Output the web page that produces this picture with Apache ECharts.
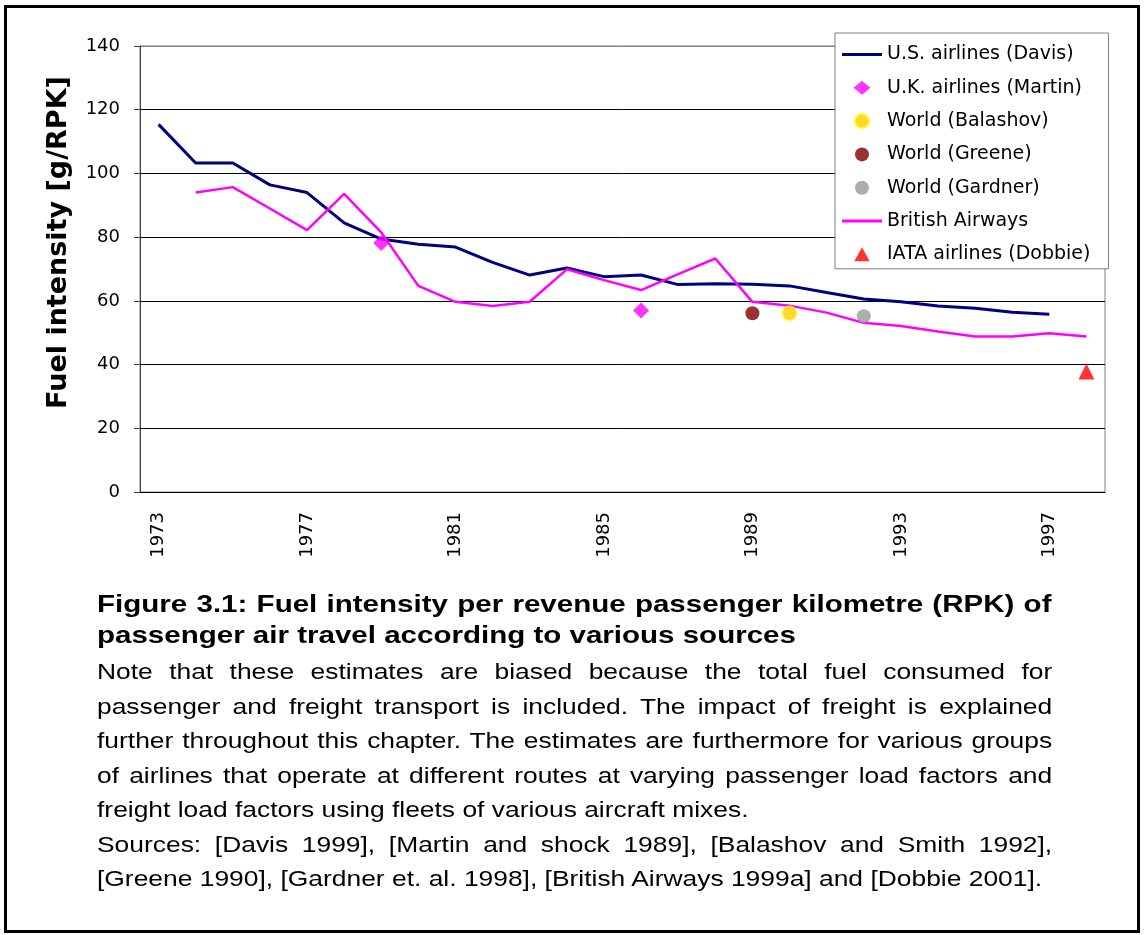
<!DOCTYPE html>
<html>
<head>
<meta charset="utf-8">
<title>Fuel intensity per RPK</title>
<script src="https://cdn.jsdelivr.net/npm/echarts@6/dist/echarts.min.js"></script>
<style>
  html, body { margin: 0; padding: 0; background: #fff; }
  #page { position: relative; width: 1144px; height: 935px; overflow: hidden; }
  #chart { position: absolute; left: 0; top: 0; width: 1144px; height: 935px; }
  #frame { position: absolute; left: 4px; top: 5px; width: 1130px; height: 922px; border: 3px solid #000; pointer-events: none; }
  .cap { position: absolute; left: 97px; transform-origin: 0 0;
         font-family: 'Liberation Sans', Arial, sans-serif; color: #000; }
  .title { width: 776px; transform: scaleX(1.23); font-size: 24px; font-weight: bold; line-height: 31px; }
  .body { width: 796px; transform: scaleX(1.2); font-size: 22px; line-height: 34.5px; }
  .just { text-align: justify; text-align-last: justify; }
</style>
</head>
<body>
<div id="page">
  <div id="chart"></div>
  <div id="caption"></div>
  <div id="frame"></div>
</div>
<script>
// years on the category axis
const years = ['1973', '1974', '1975', '1976', '1977', '1978', '1979', '1980', '1981', '1982', '1983', '1984', '1985',
  '1986', '1987', '1988', '1989', '1990', '1991', '1992', '1993', '1994', '1995', '1996', '1997', '1998']

// line series (g/RPK), one value per year
const usDavis = [115.4, 103.3, 103.3, 96.4, 94.0, 84.5, 79.4, 77.8, 76.9, 72.1, 68.1, 70.3, 67.6,
  68.1, 65.1, 65.4, 65.2, 64.7, 62.6, 60.6, 59.7, 58.4, 57.7, 56.4, 55.8, null]
const britishAirways = [null, 94.0, 95.7, 89.0, 82.2, 93.6, 81.5, 64.7, 59.7, 58.4, 59.7, 69.9, 66.5,
  63.4, 68.4, 73.3, 59.7, 58.5, 56.3, 53.1, 52.1, 50.4, 48.8, 48.8, 49.8, 48.8]

// single estimates
const martinYears = ['1979', '1986']
const martinValues = [78.2, 57.0]
const balashovYears = ['1990']
const balashovValues = [56.1]
const greeneYears = ['1989']
const greeneValues = [56.1]
const gardnerYears = ['1992']
const gardnerValues = [55.2]
const dobbieYears = ['1998']
const dobbieValues = [37.8]

const yTicks = { min: 0, max: 140, step: 20 }

const titleLines = [
  'Figure 3.1: Fuel intensity per revenue passenger kilometre (RPK) of',
  'passenger air travel according to various sources'
]
const noteLines = [
  'Note that these estimates are biased because the total fuel consumed for',
  'passenger and freight transport is included. The impact of freight is explained',
  'further throughout this chapter. The estimates are furthermore for various groups',
  'of airlines that operate at different routes at varying passenger load factors and',
  'freight load factors using fleets of various aircraft mixes.',
  'Sources: [Davis 1999], [Martin and shock 1989], [Balashov and Smith 1992],',
  '[Greene 1990], [Gardner et. al. 1998], [British Airways 1999a] and [Dobbie 2001].'
]
const noteLastLines = [4, 6]

const FONT = 'DejaVu Sans'
const lineIcon = 'path://M0,0H40V3H0Z'
const diamondIcon = 'path://M0,-1L1.2,0L0,1L-1.2,0Z'
const triangleIcon = 'path://M0,0L1.1,2L-1.1,2Z'

function pairs(xs, ys) {
  return xs.map((x, i) => [x, ys[i]])
}

function scatter(name, xs, ys, symbol, size, itemStyle) {
  return {
    name,
    type: 'scatter',
    z: 3,
    symbol,
    symbolSize: size,
    itemStyle,
    data: pairs(xs, ys)
  }
}

const option = {
  animation: false,
  backgroundColor: '#fff',
  textStyle: { fontFamily: FONT },
  grid: {
    left: 140,
    right: 39,
    top: 46,
    bottom: 443,
    show: true,
    borderColor: '#808080',
    borderWidth: 1
  },
  legend: {
    orient: 'vertical',
    left: 835,
    top: 33,
    padding: [12, 18, 5, 7],
    itemGap: 14.3,
    itemWidth: 40,
    itemHeight: 14,
    backgroundColor: '#fff',
    borderColor: '#808080',
    borderWidth: 1,
    borderRadius: 0,
    textStyle: { fontSize: 19, fontFamily: FONT, color: '#000' },
    data: [
      { name: 'U.S. airlines (Davis)', icon: lineIcon },
      { name: 'U.K. airlines (Martin)', icon: diamondIcon },
      { name: 'World (Balashov)' },
      { name: 'World (Greene)' },
      { name: 'World (Gardner)' },
      { name: 'British Airways', icon: lineIcon },
      { name: 'IATA airlines (Dobbie)', icon: triangleIcon }
    ]
  },
  xAxis: {
    type: 'category',
    data: years,
    boundaryGap: true,
    axisLine: { lineStyle: { color: '#000', width: 1 } },
    axisTick: { show: false },
    axisLabel: {
      interval: 3,
      rotate: 90,
      margin: 20,
      fontSize: 18,
      fontFamily: FONT,
      color: '#000'
    },
    splitLine: { show: false }
  },
  yAxis: {
    type: 'value',
    min: yTicks.min,
    max: yTicks.max,
    interval: yTicks.step,
    name: 'Fuel intensity [g/RPK]',
    nameLocation: 'middle',
    nameGap: 68,
    // title sits a little above the middle of the axis
    nameTextStyle: { fontSize: 27, fontWeight: 'bold', fontFamily: FONT, color: '#000', padding: [0, 0, 0, 53] },
    axisLine: { show: true, lineStyle: { color: '#404040', width: 1 } },
    axisTick: { show: true, length: 6, lineStyle: { color: '#404040' } },
    axisLabel: { margin: 20, fontSize: 18, fontFamily: FONT, color: '#000' },
    splitLine: {
      lineStyle: {
        color: ['#000', '#000', '#000', '#000', '#000', '#000', '#000', '#808080'],
        width: 1
      }
    }
  },
  series: [
    {
      name: 'U.S. airlines (Davis)',
      type: 'line',
      symbol: 'none',
      color: '#000080',
      lineStyle: { color: '#000080', width: 3 },
      data: usDavis
    },
    scatter('U.K. airlines (Martin)', martinYears, martinValues, 'diamond', 16, { color: '#ff00ff' }),
    scatter('World (Balashov)', balashovYears, balashovValues, 'circle', 14,
      { color: '#ffcc00', borderColor: '#ffff00', borderWidth: 1.5 }),
    scatter('World (Greene)', greeneYears, greeneValues, 'circle', 14, { color: '#800000' }),
    scatter('World (Gardner)', gardnerYears, gardnerValues, 'circle', 14, { color: '#999999' }),
    {
      name: 'British Airways',
      type: 'line',
      symbol: 'none',
      color: '#ff00ff',
      lineStyle: { color: '#ff00ff', width: 2.5 },
      data: britishAirways
    },
    scatter('IATA airlines (Dobbie)', dobbieYears, dobbieValues, 'triangle', 16, { color: '#ff0000' })
  ]
}

const chart = echarts.init(document.getElementById('chart'))
chart.setOption(option)

// caption below the chart
const caption = document.getElementById('caption')
titleLines.forEach((text, i) => {
  const div = document.createElement('div')
  div.className = 'cap title' + (i < titleLines.length - 1 ? ' just' : '')
  div.style.top = (587.5 + i * 31) + 'px'
  div.textContent = text
  caption.appendChild(div)
})
noteLines.forEach((text, i) => {
  const div = document.createElement('div')
  div.className = 'cap body' + (noteLastLines.includes(i) ? '' : ' just')
  div.style.top = (655.1 + i * 34.5) + 'px'
  div.textContent = text
  caption.appendChild(div)
})
</script>
</body>
</html>
